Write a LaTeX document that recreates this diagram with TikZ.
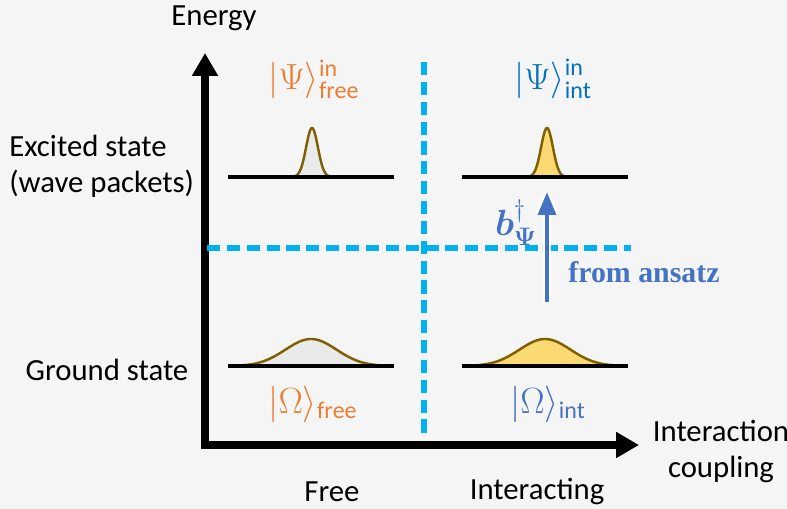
\documentclass[tikz,border=0pt]{standalone}
\usepackage{amsmath,bm}
\usepackage{fontspec}
\setmainfont{Carlito}
\newfontfamily\labelserif{Liberation Serif}
\usetikzlibrary{arrows.meta}
\definecolor{ketorange}{RGB}{237,125,49}
\definecolor{ketblue}{RGB}{0,112,192}
\definecolor{opblue}{RGB}{68,114,196}
\definecolor{sepcyan}{RGB}{0,176,240}
\definecolor{packline}{RGB}{127,96,0}
\definecolor{packyellow}{RGB}{252,218,115}
\definecolor{packgrey}{RGB}{234,234,234}
\definecolor{bggrey}{RGB}{245,245,245}
\begin{document}
\begin{tikzpicture}[
  x=0.02cm, y=-0.02cm,
  font=\fontsize{17.5}{20.5}\selectfont,
  axis/.style={line width=4.5pt, -{Triangle[length=13pt, width=14pt]}},
  level/.style={line width=2.1pt},
  sep/.style={sepcyan, line width=3.1pt, dash pattern=on 7.5pt off 3.8pt},
  packet/.style={packline, line width=1.4pt},
  lbl/.style={align=left, inner sep=0pt},
  ket/.style={inner sep=0pt, font=\fontsize{19.5}{22}\selectfont},
  op/.style={opblue, line width=2.4pt, -{Triangle[length=13pt, width=10pt]}}
]
\fill[bggrey] (0,0) rectangle (787,509);
\useasboundingbox (0,0) rectangle (787,509);

% axes
\coordinate (origin) at (205,445);
\coordinate (etop) at (205,53);
\coordinate (cright) at (639,445);
\draw[axis] (origin) -- (etop);
\draw[axis] ([xshift=-2.2pt]origin) -- (cright);

% separators
\coordinate (vtop) at (424,62);
\coordinate (vbot) at (424,436);
\coordinate (hleft) at (207,248);
\coordinate (hright) at (631,248);
\draw[sep] (vtop) -- (vbot);
\draw[sep] (hleft) -- (hright);

% wave packets
\filldraw[packet, fill=packgrey] plot[domain=-17:17, samples=60] ({312+\x},{177-49*exp(-\x*\x/70)});
\filldraw[packet, fill=packyellow] plot[domain=-17:17, samples=60] ({547+\x},{177-49*exp(-\x*\x/70)});
\filldraw[packet, fill=packgrey] plot[domain=-80:80, samples=80] ({311+\x},{366-27*exp(-\x*\x/1300)});
\filldraw[packet, fill=packyellow] plot[domain=-80:80, samples=80] ({545+\x},{366-27*exp(-\x*\x/1300)});

% energy levels
\coordinate (exfl) at (228,177);
\coordinate (exfr) at (394,177);
\coordinate (exil) at (462,177);
\coordinate (exir) at (628,177);
\coordinate (gsfl) at (228,366);
\coordinate (gsfr) at (394,366);
\coordinate (gsil) at (462,366);
\coordinate (gsir) at (628,366);
\draw[level] (exfl) -- (exfr);
\draw[level] (exil) -- (exir);
\draw[level] (gsfl) -- (gsfr);
\draw[level] (gsil) -- (gsir);

% creation operator
\coordinate (optail) at (547,302);
\coordinate (ophead) at (547,192);
\draw[white, line width=4pt, -{Triangle[length=14.5pt, width=13pt]}] ([yshift=-1pt]optail) -- ([yshift=2pt]ophead);
\draw[op] (optail) -- (ophead);
\node[opblue, inner sep=0pt, font=\fontsize{20}{22}\selectfont] (bdag) at (516,223) {$\bm{b}^{\dagger}_{\bm{\Psi}}$};
\node[opblue, inner sep=0pt, font=\fontsize{17}{20}\selectfont\labelserif\bfseries] (ansatz) at (644,272) {from ansatz};

% kets
\node[ket, ketorange] (psifree) at (314,79) {$|\Psi\rangle^{\mathrm{in}}_{\mathrm{free}}$};
\node[ket, ketblue] (psiint) at (553,79) {$|\Psi\rangle^{\mathrm{in}}_{\mathrm{int}}$};
\node[ket, ketorange] (omfree) at (313,404) {$|\Omega\rangle_{\mathrm{free}}$};
\node[ket, opblue] (omint) at (548,404) {$|\Omega\rangle_{\mathrm{int}}$};

% axis labels
\node[lbl] (energy) at (214,18) {Energy};
\node[lbl, anchor=west] (excited) at (9,166) {Excited state\\(wave packets)};
\node[lbl] (ground) at (107,370) {Ground state};
\node[lbl, align=center] (coupling) at (721,452) {Interaction\\coupling};
\node[lbl] (free) at (332,492) {Free};
\node[lbl] (inter) at (537,492) {Interacting};
\end{tikzpicture}
\end{document}
